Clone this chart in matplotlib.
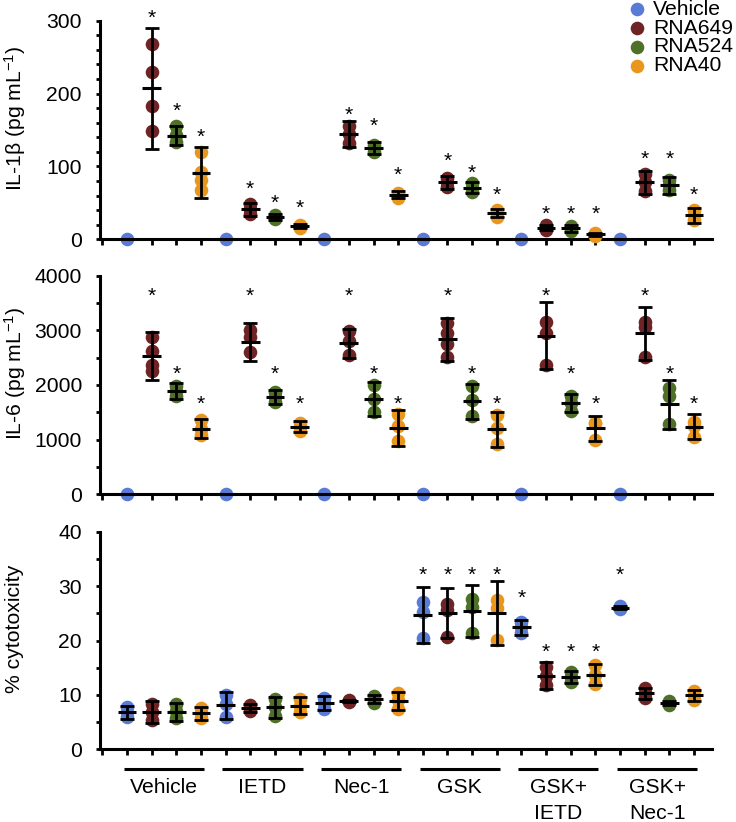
import matplotlib
matplotlib.use('Agg')
import matplotlib.pyplot as plt
from matplotlib.lines import Line2D
from matplotlib.ticker import MultipleLocator
import matplotlib.transforms as mtransforms

plt.rcParams['font.family'] = ['Liberation Sans', 'DejaVu Sans']
plt.rcParams['mathtext.fontset'] = 'custom'
plt.rcParams['mathtext.rm'] = 'Liberation Sans'
plt.rcParams['mathtext.it'] = 'Liberation Sans:italic'
plt.rcParams['mathtext.bf'] = 'Liberation Sans:bold'

# ---------------- data ----------------
groups = ['Vehicle', 'IETD', 'Nec-1', 'GSK', 'GSK+\nIETD', 'GSK+\nNec-1']
series = ['Vehicle', 'RNA649', 'RNA524', 'RNA40']
colors = {'Vehicle': '#5A7BD5', 'RNA649': '#6E2424', 'RNA524': '#4E7127', 'RNA40': '#E8961C'}

# IL-1beta (pg/mL)
il1b_mean = {
    'Vehicle': [0, 0, 0, 0, 0, 0],
    'RNA649': [207, 41, 145, 78, 16, 78],
    'RNA524': [142, 31, 125, 71, 15, 74],
    'RNA40': [91, 18, 61, 36, 7, 33],
}
il1b_err = {
    'Vehicle': [0, 0, 0, 0, 0, 0],
    'RNA649': [83, 9.5, 18, 9, 3, 16],
    'RNA524': [13, 4, 8, 8, 5, 11.5],
    'RNA40': [35, 2.5, 5, 6, 2, 10],
}
il1b_pts = {
    'Vehicle': [[0], [0], [0], [0], [0], [0]],
    'RNA649': [[268, 230, 183, 149], [48, 41, 35], [156, 145, 132], [84, 78, 72], [19, 16, 13], [90, 78, 66]],
    'RNA524': [[155, 143, 133], [34, 31, 28], [130, 125, 120], [77, 71, 65], [18, 15, 11], [82, 74, 67]],
    'RNA40': [[120, 93, 81, 68], [20, 18, 16], [64, 61, 57], [40, 36, 31], [9, 7, 5], [40, 33, 26]],
}
il1b_star = {
    'Vehicle': [None] * 6,
    'RNA649': [312, 78, 180, 116, 44, 119],
    'RNA524': [185, 59, 164, 100, 44, 119],
    'RNA40': [149, 52, 97, 70, 44, 70],
}

# IL-6 (pg/mL)
il6_mean = {
    'Vehicle': [0, 0, 0, 0, 0, 0],
    'RNA649': [2530, 2782, 2763, 2836, 2903, 2946],
    'RNA524': [1890, 1775, 1744, 1707, 1665, 1647],
    'RNA40': [1201, 1237, 1207, 1189, 1207, 1237],
}
il6_err = {
    'Vehicle': [0, 0, 0, 0, 0, 0],
    'RNA649': [436, 345, 265, 388, 610, 488],
    'RNA524': [150, 128, 320, 320, 168, 443],
    'RNA40': [171, 97, 330, 326, 226, 232],
}
il6_pts = {
    'Vehicle': [[0], [0], [0], [0], [0], [0]],
    'RNA649': [[2870, 2630, 2360, 2250], [3010, 2880, 2610], [2990, 2800, 2550],
               [3130, 2960, 2750, 2520], [3160, 2950, 2370], [3160, 3070, 2510]],
    'RNA524': [[1990, 1890, 1800], [1870, 1780, 1680], [2000, 1744, 1510],
               [1980, 1720, 1440], [1800, 1670, 1530], [1940, 1790, 1290]],
    'RNA40': [[1360, 1200, 1090], [1310, 1230, 1160], [1470, 1250, 970],
              [1460, 1220, 920], [1310, 1300, 1000], [1330, 1250, 1050]],
}
il6_star = {
    'Vehicle': [None] * 6,
    'RNA649': [3750] * 6,
    'RNA524': [2317] * 6,
    'RNA40': [1775] * 6,
}

# % cytotoxicity
cyto_mean = {
    'Vehicle': [6.8, 8.1, 8.5, 24.7, 22.4, 26.0],
    'RNA649': [6.9, 7.6, 8.9, 25.0, 13.5, 10.3],
    'RNA524': [6.9, 7.7, 9.2, 25.4, 13.3, 8.5],
    'RNA40': [6.6, 8.0, 8.9, 25.1, 13.7, 9.9],
}
cyto_err = {
    'Vehicle': [1.15, 2.45, 1.3, 5.2, 1.4, 0.3],
    'RNA649': [2.0, 0.75, 0.25, 4.6, 2.5, 1.05],
    'RNA524': [1.65, 2.0, 0.75, 4.8, 1.15, 0.35],
    'RNA40': [1.15, 1.6, 1.7, 5.9, 1.95, 1.0],
}
cyto_pts = {
    'Vehicle': [[7.8, 6.8, 6.0], [9.9, 8.3, 6.0], [9.5, 8.5, 7.5], [27.1, 25.3, 20.4], [23.4, 22.4, 21.4], [26.3, 26.0, 25.7]],
    'RNA649': [[8.4, 6.9, 5.3], [8.2, 7.6, 7.0], [9.1, 8.9, 8.7], [26.8, 25.6, 20.6], [15.2, 13.5, 11.8], [11.2, 10.3, 9.5]],
    'RNA524': [[8.3, 7.0, 5.8], [9.3, 7.7, 6.1], [9.8, 9.2, 8.6], [27.7, 26.2, 21.3], [14.2, 13.3, 12.4], [8.8, 8.5, 8.2]],
    'RNA40': [[7.6, 6.6, 5.7], [9.3, 8.0, 6.9], [10.3, 9.0, 7.5], [27.4, 25.9, 20.1], [15.5, 13.7, 12.0], [10.7, 9.9, 9.1]],
}
cyto_star = {
    'Vehicle': [None, None, None, 33.3, 29.0, 33.3],
    'RNA649': [None, None, None, 33.3, 19.0, None],
    'RNA524': [None, None, None, 33.3, 19.0, None],
    'RNA40': [None, None, None, 33.3, 19.0, None],
}

# ---------------- figure ----------------
W, H = 736, 822
fig = plt.figure(figsize=(W / 100, H / 100), dpi=100)
FS = 15.2


def add_ax(top_px, bottom_px):
    return fig.add_axes([100 / W, 1 - bottom_px / H, 612 / W, (bottom_px - top_px) / H])


def draw_panel(ax, mean, err, pts, stars, ymax, major, minor, ylabel, label_y):
    n_ser = len(series)
    for si, s in enumerate(series):
        xs = [n_ser * g + si for g in range(len(groups))]
        for g in range(len(groups)):
            p = pts[s][g]
            ax.plot([xs[g]] * len(p), p, 'o', color=colors[s], ms=9.8, mec='none',
                    zorder=3, clip_on=False)
        ax.errorbar(xs, mean[s], yerr=err[s], fmt='none', ecolor='black',
                    elinewidth=2.0, capsize=5, capthick=2.0, zorder=4, clip_on=False)
        ax.hlines(mean[s], [x - 0.38 for x in xs], [x + 0.38 for x in xs],
                  color='black', lw=2.2, zorder=4, clip_on=False)
        for g in range(len(groups)):
            sy = stars[s][g]
            if sy is not None:
                ax.annotate('*', xy=(xs[g], sy), xytext=(0, -8.8), textcoords='offset points',
                            ha='center', va='baseline', fontsize=FS, annotation_clip=False)
    ax.set_xlim(-1.095, 23.73)
    ax.set_ylim(0, ymax)
    ax.yaxis.set_major_locator(MultipleLocator(major))
    ax.yaxis.set_minor_locator(MultipleLocator(minor))
    ax.set_xticks([-1.0] + list(range(len(groups) * n_ser)))
    ax.set_xticklabels([])
    for sp in ['top', 'right']:
        ax.spines[sp].set_visible(False)
    for sp in ['left', 'bottom']:
        ax.spines[sp].set_linewidth(2.2)
    ax.tick_params(axis='y', which='both', direction='out', length=3, width=2,
                   labelsize=FS, pad=10)
    ax.tick_params(axis='x', which='both', direction='out', length=4.5, width=2)
    ax.text(-0.139, label_y, ylabel, transform=ax.transAxes, rotation=90,
            ha='center', va='center', fontsize=FS)


ax1 = add_ax(20.7, 239.3)
draw_panel(ax1, il1b_mean, il1b_err, il1b_pts, il1b_star, 300, 100, 20,
           'IL-1β (pg mL$^{-1}$)', 0.555)
ax2 = add_ax(275.7, 494.3)
draw_panel(ax2, il6_mean, il6_err, il6_pts, il6_star, 4000, 1000, 500,
           'IL-6 (pg mL$^{-1}$)', 0.555)
ax3 = add_ax(531.7, 749.3)
draw_panel(ax3, cyto_mean, cyto_err, cyto_pts, cyto_star, 40, 10, 5,
           '% cytotoxicity', 0.553)

# group underlines and labels
blend = mtransforms.blended_transform_factory(ax3.transData, ax3.transAxes)
for g, name in enumerate(groups):
    ax3.plot([4 * g - 0.13, 4 * g + 3.12], [-0.0905, -0.0905], transform=blend,
             color='black', lw=2.2, clip_on=False, solid_capstyle='butt')
    ax3.annotate(name, xy=(4 * g + 1.5, 0), xycoords=('data', 'axes fraction'),
                 xytext=(0, -21.0), textcoords='offset points', ha='center', va='top',
                 fontsize=FS, linespacing=1.45, multialignment='center')

# legend (top right)
for i, s in enumerate(series):
    ypx = 9.5 + i * 18.7
    fig.add_artist(Line2D([636.7 / W], [1 - ypx / H], marker='o', ms=9.8, color=colors[s],
                          mec='none', transform=fig.transFigure))
    fig.text(653 / W, 1 - ypx / H, s, ha='left', va='center', fontsize=FS)

fig.savefig('out.png', dpi=100)
